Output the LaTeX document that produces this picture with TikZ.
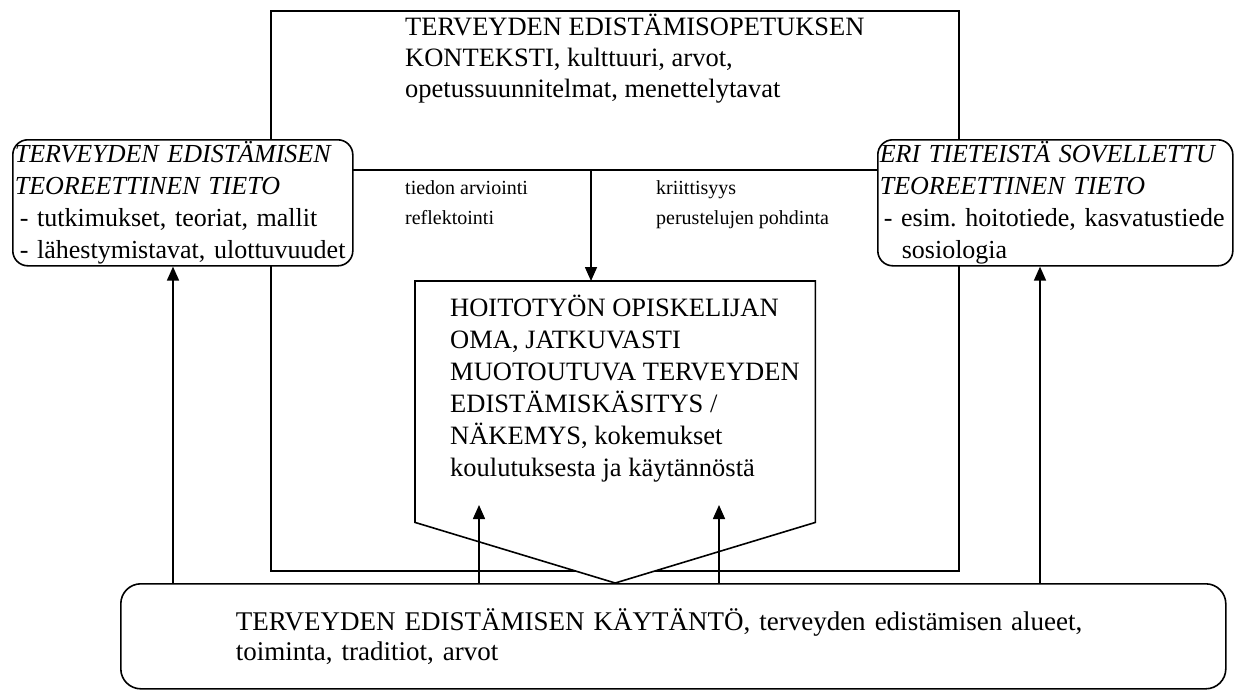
\documentclass[tikz,border=0pt]{standalone}
\usepackage{fontspec}
\setmainfont{Liberation Serif}
\frenchspacing
\usetikzlibrary{positioning,arrows.meta,calc}

\begin{document}
\begin{tikzpicture}[x=1pt,y=-1pt,
    frame/.style={draw,line width=1.6pt},
    sidebox/.style={frame,fill=white,rounded corners=15pt,anchor=north west,
        minimum height=126pt,inner xsep=2pt,inner ysep=0pt,align=left,
        font=\fontsize{26}{32}\selectfont},
    plain/.style={anchor=north west,inner sep=0pt,align=left},
    arr/.style={line width=1.6pt,-{Triangle[width=12pt,length=14pt]}}]
    \path[use as bounding box,fill=white] (0,0) rectangle (1247,691);

    \node[frame,anchor=north west,inner sep=0pt,minimum width=688pt,minimum height=560pt] (context) at (270,10) {};
    \node[plain,font=\fontsize{26.5}{31}\selectfont] (contexttext) at (405,14)
        {TERVEYDEN EDISTÄMISOPETUKSEN\\KONTEKSTI, kulttuuri, arvot,\\opetussuunnitelmat, menettelytavat};
    \coordinate (split) at (591,170);
    \draw[frame] (context.west |- split) -- (context.east |- split);
    \node[plain,font=\fontsize{20}{30}\selectfont] (evaluation) at (405,180) {tiedon arviointi\\reflektointi};
    \node[plain,font=\fontsize{20}{30}\selectfont] (criticism) at (656,180) {kriittisyys\\perustelujen pohdinta};

    \node[frame,fill=white,rounded corners=20pt,anchor=north west,minimum width=1105pt,minimum height=105pt,
        inner xsep=115pt,inner ysep=0pt,text width=875pt,align=left,font=\fontsize{27}{30}\selectfont] (practice) at (120,583)
        {TERVEYDEN EDISTÄMISEN KÄYTÄNTÖ, terveyden edistämisen alueet,\\toiminta, traditiot, arvot};

    \node[anchor=north west,inner sep=0pt,minimum width=400pt,minimum height=241pt] (studentbox) at (415,281) {};
    \draw[frame,fill=white] (studentbox.north west) -- (studentbox.north east) -- (studentbox.south east)
        -- (studentbox.south |- practice.north) -- (studentbox.south west) -- cycle;
    \node[plain,font=\fontsize{26.5}{32}\selectfont] (student) at (450,295)
        {HOITOTYÖN OPISKELIJAN\\OMA, JATKUVASTI\\MUOTOUTUVA TERVEYDEN\\EDISTÄMISKÄSITYS /\\NÄKEMYS, kokemukset\\koulutuksesta ja käytännöstä};

    \node[sidebox,minimum width=340pt,text width=336pt] (leftbox) at (12,139)
        {\textit{TERVEYDEN EDISTÄMISEN}\\\textit{TEOREETTINEN TIETO}\\\hspace*{5pt}- tutkimukset, teoriat, mallit\\\hspace*{5pt}- lähestymistavat, ulottuvuudet};
    \node[sidebox,minimum width=355pt,text width=351pt] (rightbox) at (877,139)
        {\textit{ERI TIETEISTÄ SOVELLETTU}\\\textit{TEOREETTINEN TIETO}\\\hspace*{4pt}- esim. hoitotiede, kasvatustiede\\\hspace*{22pt}sosiologia};

    \draw[arr] (split) -- (split |- studentbox.north);
    \draw[arr] (practice.north -| 173,0) -- (173,0 |- leftbox.south);
    \draw[arr] (practice.north -| 1040,0) -- (1040,0 |- rightbox.south);
    \draw[arr] (practice.north -| 479,0) -- (479,505);
    \draw[arr] (practice.north -| 719,0) -- (719,505);
\end{tikzpicture}
\end{document}
